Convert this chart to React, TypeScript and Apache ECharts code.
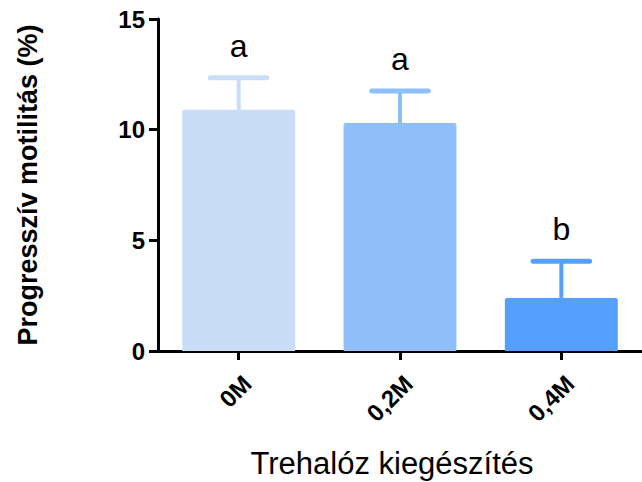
import React, { useEffect, useRef } from "react";
import * as echarts from "echarts";

const categories = ["0M", "0,2M", "0,4M"];
const means = [10.9, 10.3, 2.4];
const errors = [1.45, 1.45, 1.65];
const letters = ["a", "a", "b"];
const colors = ["#C9DDF7", "#90BEF8", "#54A1FD"];
const yTicks = { min: 0, max: 15, interval: 5 };

const FONT = "'Liberation Sans', Arial, Helvetica, sans-serif";

export default function App() {
  const ref = useRef<HTMLDivElement>(null);
  useEffect(() => {
    if (!ref.current) return;
    const chart = echarts.init(ref.current, null, { renderer: "svg" });
    const option: any = {
      animation: false,
      backgroundColor: "#ffffff",
      grid: { left: 158, top: 19, width: 492, height: 332, containLabel: false },
      xAxis: {
        type: "category",
        data: categories,
        axisLine: { show: true, lineStyle: { color: "#000", width: 3 } },
        axisTick: { show: true, alignWithLabel: true, length: 9, lineStyle: { color: "#000", width: 3 } },
        axisLabel: {
          rotate: 45,
          margin: 20,
          verticalAlign: "top",
          color: "#000",
          fontFamily: FONT,
          fontWeight: "bold",
          fontSize: 24,
        },
        splitLine: { show: false },
      },
      yAxis: {
        type: "value",
        min: yTicks.min,
        max: yTicks.max,
        interval: yTicks.interval,
        axisLine: { show: true, lineStyle: { color: "#000", width: 3 } },
        axisTick: { show: true, length: 9, lineStyle: { color: "#000", width: 3 } },
        axisLabel: {
          margin: 13,
          color: "#000",
          fontFamily: FONT,
          fontWeight: "bold",
          fontSize: 24,
        },
        splitLine: { show: false },
      },
      series: [
        {
          type: "bar",
          barWidth: "70%",
          data: means.map((v, i) => ({
            value: v,
            itemStyle: { color: colors[i], borderRadius: [2, 2, 0, 0] },
          })),
          z: 2,
        },
        {
          type: "custom",
          z: 3,
          data: means.map((v, i) => [i, v, errors[i]]),
          renderItem: (params: any, api: any) => {
            const i = params.dataIndex;
            const x = api.value(0);
            const m = api.value(1);
            const e = api.value(2);
            const base = api.coord([x, m]);
            const top = api.coord([x, m + e]);
            const bw = api.size([1, 0])[0];
            const half = bw * 0.7 * 0.25;
            const col = colors[i];
            return {
              type: "group",
              children: [
                {
                  type: "line",
                  shape: { x1: top[0], y1: base[1], x2: top[0], y2: top[1] },
                  style: { stroke: col, lineWidth: 4 },
                },
                {
                  type: "line",
                  shape: { x1: top[0] - half, y1: top[1], x2: top[0] + half, y2: top[1] },
                  style: { stroke: col, lineWidth: 5, lineCap: "round" },
                },
                {
                  type: "text",
                  x: top[0],
                  y: top[1] - 32,
                  style: {
                    text: letters[i],
                    fill: "#000",
                    font: `32px ${FONT}`,
                    align: "center",
                    verticalAlign: "middle",
                  },
                },
              ],
            };
          },
        },
      ],
      graphic: [
        {
          type: "text",
          x: 392,
          y: 463,
          style: {
            text: "Trehalóz kiegészítés",
            fill: "#000",
            font: `31px ${FONT}`,
            align: "center",
            verticalAlign: "middle",
          },
        },
        {
          type: "text",
          x: 28,
          y: 185,
          rotation: Math.PI / 2,
          style: {
            text: "Progresszív motilitás (%)",
            fill: "#000",
            font: `bold 27px ${FONT}`,
            align: "center",
            verticalAlign: "middle",
          },
        },
      ],
    };
    chart.setOption(option);
    return () => chart.dispose();
  }, []);
  return (
    <div
      ref={ref}
      style={{ position: "fixed", left: 0, top: 0, width: 642, height: 482 }}
    />
  );
}
